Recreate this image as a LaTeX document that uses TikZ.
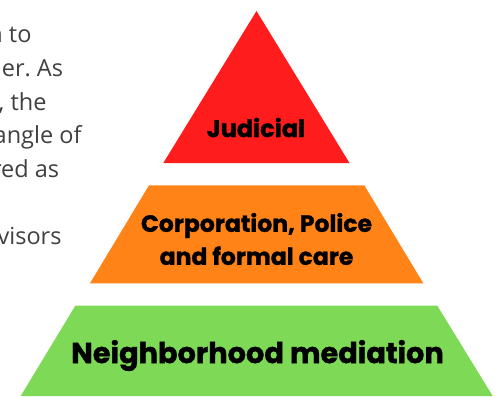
\documentclass[tikz,border=0pt]{standalone}
\usepackage{fontspec}
\setmainfont{Open Sans}
\newfontfamily\popfont{Poppins}[BoldFeatures={FakeBold=1.2}]
\definecolor{lvred}{HTML}{FF1C1C}
\definecolor{lvorange}{HTML}{FF8316}
\definecolor{lvgreen}{HTML}{7ED957}
\definecolor{bodygray}{HTML}{404040}
\tikzset{
  bodyline/.style={anchor=base east, inner sep=0pt, text=bodygray, font=\fontsize{23.5}{28}\selectfont},
  levellabel/.style={align=center, inner sep=0pt, text=black},
}
\frenchspacing
\begin{document}
\begin{tikzpicture}[x=1pt,y=-1pt]
\useasboundingbox (0,0) rectangle (503,396);
% pyramid levels
\fill[lvred] (256.5,11) -- (163.3,163) -- (349.5,163) -- cycle;
\fill[lvorange] (149,185.3) -- (364.3,185.3) -- (423.3,283.3) -- (90,283.3) -- cycle;
\fill[lvgreen] (75.3,305.7) -- (437.3,305.7) -- (492.7,396) -- (20.7,396) -- cycle;
% labels
\node[levellabel, font={\popfont\bfseries\fontsize{24}{26}\selectfont}] (judicial) at (256,127.5) {Judicial};
\node[levellabel, font={\popfont\bfseries\fontsize{23.5}{33}\selectfont}] (corp) at (256.5,239) {Corporation, Police\\and formal care};
\node[levellabel, font={\popfont\bfseries\fontsize{28.8}{30}\selectfont}] (neigh) at (257.5,355.5) {Neighborhood mediation};
% cut-off body text
\node[bodyline] (l1) at (31.7,42.7) {n to};
\node[bodyline] (l2) at (63.3,76.3) {her. As};
\node[bodyline] (l3) at (46.7,110) {, the};
\node[bodyline] (l4) at (81.7,143.6) {angle of};
\node[bodyline] (l5) at (59.3,177.2) {red as};
\node[bodyline] (l6) at (61.7,244.4) {visors};
\end{tikzpicture}
\end{document}
